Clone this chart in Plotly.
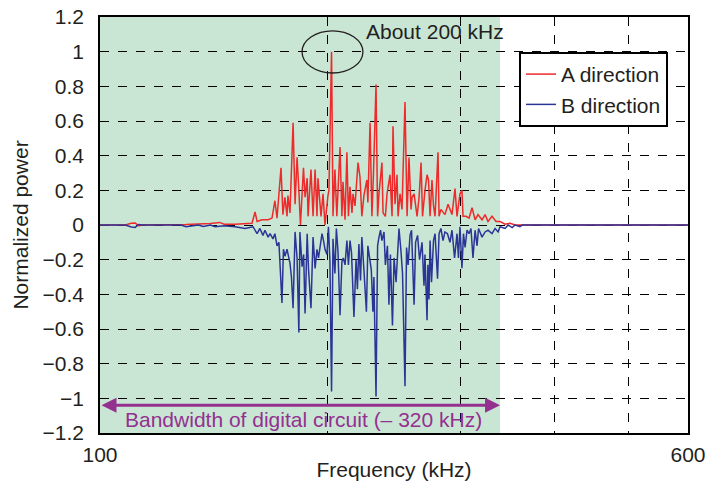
import math
import plotly.graph_objects as go

# ---------------- data (kHz, normalized power) ----------------
a_freq = [100, 108, 110, 111.3, 112.5, 114, 130, 140, 144, 146, 150.9, 155.6, 158.9, 160.4, 161.4,
          163.8, 166.9, 168.9, 170.4, 171.5, 173.6, 174.6, 175.7, 176.8, 177.3, 178.4, 180.1,
          181.2, 182.3, 183.3, 184.2, 185.9, 186.8, 188.0, 188.5, 190.2, 191.4, 192.6, 193.7,
          194.3, 196.1, 197.3, 198.5, 200.3, 200.9, 202.5, 203.4, 204.6, 205.8, 207.8, 209.0,
          209.7, 211.0, 212.2, 213.2, 214.2, 215.5, 216.2, 217.5, 219.5, 220.8, 222.1, 223.5,
          225.5, 226.2, 227.7, 229.0, 230.1, 231.9, 233.0, 234.0, 236.1, 236.9, 238.6, 239.8,
          242.0, 243.5, 244.2, 245.7, 247.2, 248.0, 249.5, 251.0, 253.3, 254.9, 256.4, 258.0,
          258.8, 260.4, 262.8, 264.4, 266.0, 267.2, 269.2, 270.9, 272.1, 273.4, 275.0, 276.3,
          277.6, 280.1, 281.0, 282.6, 286.1, 288.8, 292.3, 295.0, 296.8, 299.5, 301.3, 302.3,
          305.1, 307.9, 310.7, 313.6, 316.4, 320.3, 323.3, 326.2, 330.2, 334.3, 338.4, 343.6,
          348.9, 354.2, 600]
a_power = [0, 0, 0.01, 0.012, -0.004, 0, 0.003, 0.008, 0.015, 0.005, 0.005, 0.01, 0.01, 0.075, 0.02,
           0.03, 0.03, 0.04, 0.14, 0.04, 0.33, 0.06, 0.16, 0.05, 0.17, 0.07, 0.59,
           0.12, 0.39, 0.2, 0.0, 0.33, 0.16, 0.27, 0.05, 0.32, 0.05, 0.32, 0.05,
           0.27, 0.05, 0.18, 0.0, 0.17, 0.2, 1.0, 0.05, 0.32, 0.05, 0.45, 0.05,
           0.25, 0.03, 0.42, 0.05, 0.22, 0.07, 0.18, 0.11, 0.36, 0.28, 0.05, 0.17,
           0.26, 0.13, 0.59, 0.05, 0.3, 0.81, 0.05, 0.18, 0.36, 0.07, 0.05, 0.18,
           0.29, 0.05, 0.57, 0.12, 0.29, 0.05, 0.18, 0.09, 0.71, 0.05, 0.39, 0.09,
           0.16, 0.18, 0.05, 0.16, 0.36, 0.05, 0.2, 0.29, 0.26, 0.05, 0.26, 0.11,
           0.05, 0.42, 0.05, 0.09, 0.06, 0.12, 0.06, 0.21, 0.05, 0.18, 0.2, 0.05,
           0.05, 0.04, 0.1, 0.03, 0.06, 0.03, 0.06, 0.02, 0.05, 0.02, 0.02, 0.005,
           0.01, 0.0, 0.0]

b_freq = [100, 108, 110, 111.3, 112.5, 114, 128, 130, 135, 137, 140, 142, 146, 150.9, 155.6, 159.4,
          161.4, 162.8, 164.3, 165.3, 166.9, 167.9, 169.4, 170.4, 171.5, 172.5, 174.1, 174.9,
          175.7, 176.8, 178.4, 179.2, 180.1, 181.2, 182.3, 183.3, 183.9, 185.1, 186.0, 186.8,
          188.0, 188.8, 190.2, 191.4, 192.6, 193.7, 194.6, 195.5, 196.7, 197.6, 198.5, 199.7,
          200.6, 201.5, 202.5, 203.4, 204.6, 205.5, 206.5, 207.8, 209.0, 209.9, 211.0, 212.2,
          213.2, 214.2, 215.2, 216.8, 218.2, 219.1, 220.1, 221.2, 222.1, 223.5, 225.2, 226.2,
          227.7, 228.6, 229.7, 230.4, 231.9, 233.0, 234.0, 235.1, 236.1, 237.6, 238.6, 240.1,
          241.2, 242.3, 243.8, 245.0, 246.5, 247.6, 248.7, 250.2, 251.4, 253.3, 254.5, 255.7,
          257.2, 258.4, 260.4, 261.6, 263.2, 264.8, 266.8, 268.4, 269.2, 270.9, 271.6, 272.5,
          273.4, 274.6, 276.3, 277.6, 279.7, 281.0, 282.6, 284.4, 286.1, 288.3, 290.5, 292.3,
          294.6, 296.8, 298.1, 299.5, 301.3, 302.7, 304.2, 306.0, 307.9, 309.7, 311.6, 313.6,
          315.5, 316.9, 320.3, 323.3, 326.2, 330.2, 333.3, 336.4, 338.4, 343.6, 346.8, 351.1,
          354.2, 359.6, 362, 600]
b_power = [0, 0, -0.012, -0.014, 0.003, 0, 0, -0.01, 0, -0.008, 0, -0.01, -0.005, -0.01, -0.02, -0.01,
           -0.05, -0.02, -0.06, -0.03, -0.07, -0.05, -0.08, -0.05, -0.12, -0.1, -0.45, -0.14,
           -0.18, -0.14, -0.22, -0.3, -0.48, -0.04, -0.19, -0.62, -0.04, -0.24, -0.17, -0.51,
           -0.05, -0.26, -0.48, -0.07, -0.25, -0.14, -0.19, -0.14, -0.05, -0.09, -0.14, -0.17,
           -0.01, -0.21, -0.96, -0.08, -0.28, -0.02, -0.15, -0.52, -0.21, -0.19, -0.23, -0.09,
           -0.23, -0.09, -0.16, -0.53, -0.2, -0.37, -0.11, -0.32, -0.07, -0.26, -0.5, -0.12,
           -0.23, -0.26, -0.5, -0.3, -0.99, -0.12, -0.07, -0.03, -0.09, -0.04, -0.23, -0.12,
           -0.46, -0.17, -0.58, -0.19, -0.33, -0.13, -0.02, -0.15, -0.28, -0.93, -0.13, -0.23,
           -0.06, -0.03, -0.46, -0.1, -0.06, -0.2, -0.1, -0.35, -0.17, -0.55, -0.23, -0.43,
           -0.09, -0.33, -0.09, -0.05, -0.31, -0.05, -0.02, -0.09, -0.04, -0.05, -0.1, -0.03,
           -0.19, -0.05, -0.19, -0.01, -0.25, -0.05, -0.13, -0.03, -0.05, -0.02, -0.19, -0.03,
           -0.12, -0.02, -0.07, -0.04, -0.03, -0.05, -0.02, -0.04, -0.01, -0.02, 0.0, -0.015,
           0.0, -0.01, 0.0, 0.0]

x_tick_vals = [100, 200, 300, 400, 500, 600]
x_tick_text = ["100", "", "", "", "", "600"]
y_tick_vals = [1.2, 1.0, 0.8, 0.6, 0.4, 0.2, 0.0, -0.2, -0.4, -0.6, -0.8, -1.0, -1.2]
y_tick_text = ["1.2", "1", "0.8", "0.6", "0.4", "0.2", "0", "\u22120.2", "\u22120.4",
               "\u22120.6", "\u22120.8", "\u22121", "\u22121.2"]

band_start_khz = 100
band_end_khz = 338.4
peak_khz = 202.5

FONT = "Liberation Sans, Arial, sans-serif"
TXT = "#231f20"
PURPLE = "#94308f"
FS = 21

fig = go.Figure()
fig.add_trace(go.Scatter(x=a_freq, y=a_power, mode="lines", name="A direction",
                         line=dict(color="#ee2a2a", width=1.5)))
fig.add_trace(go.Scatter(x=b_freq, y=b_power, mode="lines", name="B direction",
                         line=dict(color="#2b3596", width=1.5)))

# green bandwidth region (below grid)
fig.add_shape(type="rect", xref="x", yref="y", x0=band_start_khz, x1=band_end_khz,
              y0=-1.2, y1=1.2, fillcolor="#c9e6d5", line=dict(width=0), layer="below")

# ellipse around the peak
fig.add_shape(type="circle", xref="x", yref="y", x0=185.1, x1=222.8, y0=0.877, y1=1.12,
              line=dict(color=TXT, width=1.3))

fig.add_annotation(x=math.log10(223.8), y=1.114, xref="x", yref="y", text="About 200 kHz",
                   showarrow=False, xanchor="left", yanchor="middle",
                   font=dict(family=FONT, size=FS, color=TXT))

# double-headed bandwidth arrow
fig.add_annotation(x=math.log10(band_end_khz), y=-1.04, ax=math.log10(band_start_khz), ay=-1.04,
                   xref="x", yref="y", axref="x", ayref="y", text="", showarrow=True,
                   arrowhead=2, startarrowhead=2, arrowside="end+start", arrowsize=1,
                   startarrowsize=1, arrowwidth=3, arrowcolor=PURPLE)
fig.add_annotation(x=math.log10(107.3), y=-1.12, xref="x", yref="y",
                   text="Bandwidth of digital circuit (\u2013 320 kHz)", showarrow=False,
                   xanchor="left", yanchor="middle", font=dict(family=FONT, size=FS, color=PURPLE))

fig.update_layout(
    width=708, height=481,
    margin=dict(l=100, r=20, t=17, b=48),
    paper_bgcolor="white", plot_bgcolor="white",
    font=dict(family=FONT, size=FS, color=TXT),
    showlegend=True,
    legend=dict(x=0.7126, y=0.916, xanchor="left", yanchor="top", bgcolor="white",
                bordercolor="black", borderwidth=2, font=dict(size=FS, color=TXT),
                tracegroupgap=0, itemwidth=30),
)
fig.update_xaxes(type="log", range=[math.log10(100), math.log10(600)],
                 tickvals=x_tick_vals, ticktext=x_tick_text,
                 showgrid=True, gridcolor="black", griddash="dash", gridwidth=1,
                 showline=True, linecolor="black", linewidth=1.5, mirror=True,
                 ticks="", ticklabelstandoff=2, zeroline=False, automargin=False,
                 title=dict(text="Frequency (kHz)", font=dict(size=FS), standoff=2))
fig.update_yaxes(range=[-1.2, 1.2], tickvals=y_tick_vals, ticktext=y_tick_text,
                 showgrid=True, gridcolor="black", griddash="dash", gridwidth=1,
                 showline=True, linecolor="black", linewidth=1.5, mirror=True,
                 ticks="", ticklabelstandoff=10, zeroline=False, automargin=False,
                 title=dict(text="Normalized power", font=dict(size=FS), standoff=8))

fig.write_html("out.html")
